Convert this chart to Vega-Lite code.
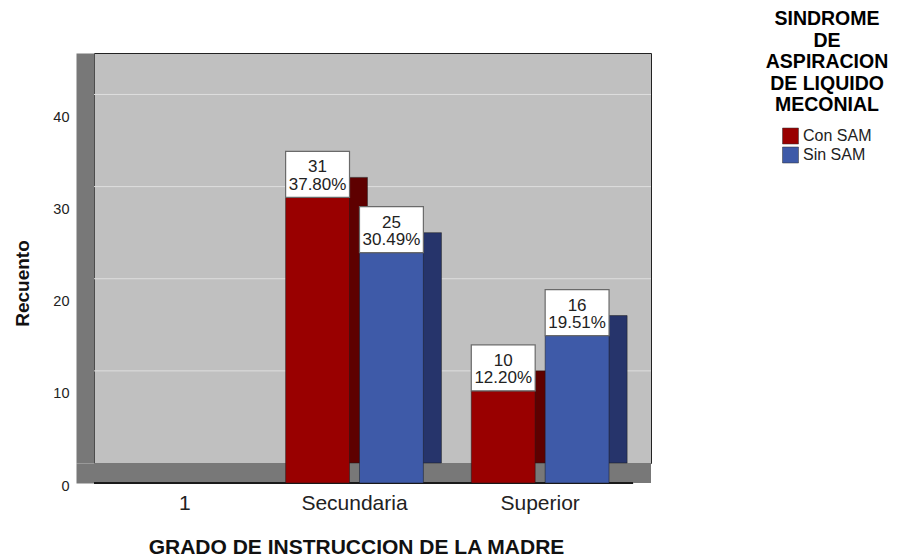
{
  "$schema": "https://vega.github.io/schema/vega-lite/v6.json",
  "width": 557,
  "height": 410,
  "autosize": {"type": "none"},
  "padding": {"left": 94, "top": 53, "right": 253, "bottom": 95},
  "config": {
    "font": "Liberation Sans",
    "view": {"fill": "#c0c0c0", "stroke": "#222222", "strokeWidth": 1}
  },
  "resolve": {"axis": {"y": "independent"}},
  "data": {"values": [
    {"grado": "Secundaria", "sam": "Con SAM", "count": 31, "pct": 0.3780},
    {"grado": "Secundaria", "sam": "Sin SAM", "count": 25, "pct": 0.3049},
    {"grado": "Superior", "sam": "Con SAM", "count": 10, "pct": 0.1220},
    {"grado": "Superior", "sam": "Sin SAM", "count": 16, "pct": 0.1951}
  ]},
  "layer": [
    {
      "data": {"values": [{"grid": 10}, {"grid": 20}, {"grid": 30}, {"grid": 40}]},
      "mark": {"type": "rule", "color": "#dedede", "strokeWidth": 1},
      "encoding": {"y": {"field": "grid", "type": "quantitative", "scale": {"domain": [0, 44.5], "nice": false}, "axis": null}}
    },
    {
      "data": {"values": [{}]},
      "mark": {"type": "rect", "y2Offset": 20, "fill": "#787878"},
      "encoding": {"y": {"datum": 0, "axis": null}, "y2": {"datum": 0}}
    },
    {
      "data": {"values": [{}]},
      "mark": {"type": "rule", "xOffset": -18, "yOffset": 20, "color": "#1a1a1a", "strokeWidth": 2},
      "encoding": {"y": {"datum": 0, "axis": null}}
    },
    {
      "transform": [{"filter": "datum.sam === 'Con SAM'"}],
      "mark": {"type": "bar", "width": {"band": 0.4638}, "xOffset": -19, "fill": "#5e0000", "stroke": "#1a1a1a", "strokeWidth": 0.5},
      "encoding": {
        "x": {"field": "grado", "type": "nominal", "sort": null, "title": "GRADO DE INSTRUCCION DE LA MADRE",
          "scale": {"domain": ["1", "Secundaria", "Superior"], "range": [-18, 539], "paddingInner": 0.258, "paddingOuter": 0.129},
          "axis": {"domain": true, "domainColor": "#787878", "domainWidth": 20, "ticks": false, "grid": false, "offset": 10, "labelPadding": 19, "labelFontSize": 21, "labelColor": "#222222", "labelAngle": 0, "labelOffset": {"condition": {"test": "datum.value === '1'", "value": 16}, "value": 0}, "titleFontSize": 21, "titleFontWeight": "bold", "titleColor": "#111111", "titleX": 262, "titleY": 80, "titleBaseline": "alphabetic"}},
        "y": {"field": "count", "type": "quantitative",
          "scale": {"domain": [0, 44.5], "nice": false},
          "axis": null}
      }
    },
    {
      "transform": [{"filter": "datum.sam === 'Sin SAM'"}],
      "mark": {"type": "bar", "width": {"band": 0.4638}, "xOffset": 55, "fill": "#26346b", "stroke": "#1a1a1a", "strokeWidth": 0.5},
      "encoding": {
        "x": {"field": "grado", "type": "nominal", "sort": null, "title": "GRADO DE INSTRUCCION DE LA MADRE",
          "scale": {"domain": ["1", "Secundaria", "Superior"], "range": [-18, 539], "paddingInner": 0.258, "paddingOuter": 0.129},
          "axis": {"domain": true, "domainColor": "#787878", "domainWidth": 20, "ticks": false, "grid": false, "offset": 10, "labelPadding": 19, "labelFontSize": 21, "labelColor": "#222222", "labelAngle": 0, "labelOffset": {"condition": {"test": "datum.value === '1'", "value": 16}, "value": 0}, "titleFontSize": 21, "titleFontWeight": "bold", "titleColor": "#111111", "titleX": 262, "titleY": 80, "titleBaseline": "alphabetic"}},
        "y": {"field": "count", "type": "quantitative",
          "scale": {"domain": [0, 44.5], "nice": false},
          "axis": null}
      }
    },
    {
      "encoding": {
        "x": {"field": "grado", "type": "nominal", "sort": null, "title": "GRADO DE INSTRUCCION DE LA MADRE",
          "scale": {"domain": ["1", "Secundaria", "Superior"], "range": [-18, 539], "paddingInner": 0.258, "paddingOuter": 0.129},
          "axis": {"domain": true, "domainColor": "#787878", "domainWidth": 20, "ticks": false, "grid": false, "offset": 10, "labelPadding": 19, "labelFontSize": 21, "labelColor": "#222222", "labelAngle": 0, "labelOffset": {"condition": {"test": "datum.value === '1'", "value": 16}, "value": 0}, "titleFontSize": 21, "titleFontWeight": "bold", "titleColor": "#111111", "titleX": 262, "titleY": 80, "titleBaseline": "alphabetic"}},
        "xOffset": {"field": "sam", "type": "nominal", "scale": {"domain": ["Con SAM", "Sin SAM"], "paddingInner": 0.135, "paddingOuter": 0}},
        "y": {"field": "count", "type": "quantitative", "title": "Recuento",
          "scale": {"domain": [0, 44.5], "nice": false},
          "axis": {"orient": "left", "values": [0, 10, 20, 30, 40], "grid": false, "ticks": false, "tickSize": 0, "domain": true, "domainWidth": 18, "domainColor": "#787878", "offset": 9, "labelOffset": 23, "labelPadding": 16, "labelFontSize": 14.5, "labelColor": "#222222", "titleFontSize": 19, "titleFontWeight": "bold", "titleColor": "#111111", "titleX": -63, "titleY": 230, "titleBaseline": "middle"}}
      },
      "layer": [
        {
          "mark": {"type": "bar", "yOffset": 20, "y2Offset": 20, "stroke": "#1a1a1a", "strokeWidth": 0.5},
          "encoding": {
            "color": {"field": "sam", "type": "nominal",
              "scale": {"domain": ["Con SAM", "Sin SAM"], "range": ["#990000", "#3e5aa8"]},
              "legend": {"title": ["SINDROME", "DE", "ASPIRACION", "DE LIQUIDO", "MECONIAL"], "orient": "none", "legendX": 672, "legendY": -43, "titleAnchor": "middle", "titleAlign": "center", "titleFontSize": 19.5, "titleLineHeight": 21.5, "titleFontWeight": "bold", "titleColor": "#000000", "titlePadding": 12, "titleLimit": 300, "labelFontSize": 16, "labelColor": "#222222", "labelOffset": 4, "symbolType": "square", "symbolSize": 256, "symbolStrokeWidth": 0.5, "symbolStrokeColor": "#333333", "symbolOpacity": 1, "rowPadding": 0}}
          }
        },
        {
          "mark": {"type": "bar", "yOffset": 20, "y2Offset": -26, "fill": "#ffffff", "stroke": "#6a6a6a", "strokeWidth": 1.2},
          "encoding": {"y2": {"field": "count"}}
        },
        {
          "mark": {"type": "text", "yOffset": -10, "fontSize": 17, "color": "#222222", "baseline": "middle"},
          "encoding": {"text": {"field": "count", "type": "quantitative"}}
        },
        {
          "mark": {"type": "text", "yOffset": 7.5, "fontSize": 17, "color": "#222222", "baseline": "middle"},
          "encoding": {"text": {"field": "pct", "type": "quantitative", "format": ".2%"}}
        }
      ]
    }
  ]
}
